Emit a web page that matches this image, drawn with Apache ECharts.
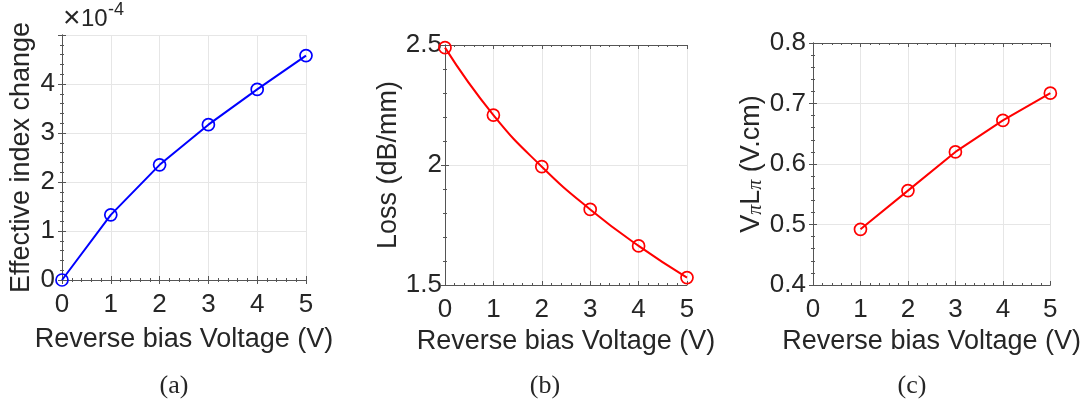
<!DOCTYPE html>
<html>
<head>
<meta charset="utf-8">
<script src="https://cdn.jsdelivr.net/npm/echarts@6/dist/echarts.min.js"></script>
<style>html,body{margin:0;padding:0;background:#fff}#c{width:1084px;height:405px}</style>
</head>
<body>
<div id="c"></div>
<script>
const voltage = [0, 1, 2, 3, 4, 5];
const indexChange = [0, 1.33, 2.35, 3.17, 3.89, 4.58];      // ×10^-4
const loss = [2.489, 2.208, 1.993, 1.815, 1.663, 1.531];      // dB/mm
const vpiVoltage = [1, 2, 3, 4, 5];
const vpiLpi = [0.492, 0.556, 0.620, 0.672, 0.717];           // V.cm
const xTitle = 'Reverse bias Voltage (V)';
const captions = ['(a)', '(b)', '(c)'];
const scaleTimes = '×';
const scaleBase = '10';
const scaleExp = '-4';

const FONT = '"Liberation Sans", Arial, sans-serif';
const SERIF = '"Liberation Serif", "DejaVu Serif", serif';
const TXT = '#262626';
const AX = '#555555';
const BLUE = '#0000ff';
const RED = '#ff0000';

const grids = [
  {left: 62, right: 778, top: 35, bottom: 125},
  {left: 445, right: 397, top: 45, bottom: 120},
  {left: 813, right: 30, top: 43, bottom: 120}
];

function baseAxis(extra) {
  return Object.assign({
    axisLine: {show: true, lineStyle: {color: AX, width: 1}},
    axisTick: {show: true, inside: true, length: 4, lineStyle: {color: AX}},
    minorTick: {show: true, splitNumber: 5, length: 2, lineStyle: {color: AX}},
    splitLine: {show: false},
    axisLabel: {show: false}
  }, extra);
}

const xAxes = [], yAxes = [];
const xNameGap = [46, 42, 42];
const yNameGap = [27, 43, 42];
const yRanges = [[0, 5, 1], [1.5, 2.5, 0.5], [0.4, 0.8, 0.1]];
const yNames = ['Effective index change', 'Loss (dB/mm)', '{v|V}{p|π}{v|L}{p|π}{v| (V.cm)}'];

for (let i = 0; i < 3; i++) {
  xAxes.push(baseAxis({
    type: 'value', gridIndex: i, position: 'bottom', min: 0, max: 5, interval: 1,
    name: xTitle, nameLocation: 'middle', nameGap: xNameGap[i],
    nameTextStyle: {fontFamily: FONT, fontSize: 27, color: TXT},
    axisLabel: {show: true, margin: 12, fontFamily: FONT, fontSize: 26, color: TXT},
    splitLine: {show: true, lineStyle: {color: '#e6e6e6', width: 1}}
  }));
  xAxes.push(baseAxis({
    type: 'value', gridIndex: i, position: 'top', min: 0, max: 5, interval: 1
  }));
  const r = yRanges[i];
  yAxes.push(baseAxis({
    type: 'value', gridIndex: i, position: 'left', min: r[0], max: r[1], interval: r[2],
    name: yNames[i], nameLocation: 'middle', nameGap: yNameGap[i],
    nameTextStyle: {fontFamily: FONT, fontSize: 27, color: TXT,
      rich: {v: {fontFamily: FONT, fontSize: 27, color: TXT},
             p: {fontFamily: SERIF, fontStyle: 'italic', fontSize: 20, color: TXT, padding: [9, 0, 0, 0]}}},
    axisLabel: {show: true, margin: i === 1 ? 3 : 7, fontFamily: FONT, fontSize: 26, color: TXT,
      formatter: i === 0 ? (v => (v === 5 ? '' : String(v))) : (v => String(v))},
    splitLine: {show: true, lineStyle: {color: '#e6e6e6', width: 1}}
  }));
  yAxes.push(baseAxis({
    type: 'value', gridIndex: i, position: 'right', min: r[0], max: r[1], interval: r[2]
  }));
}

function pairs(xs, ys) { return xs.map((x, k) => [x, ys[k]]); }

function lineSeries(idx, data, color, smooth) {
  return {
    type: 'line', xAxisIndex: idx * 2, yAxisIndex: idx * 2, data: data,
    smooth: smooth, symbol: 'circle', symbolSize: 12, showSymbol: true,
    lineStyle: {color: color, width: 2},
    itemStyle: {color: 'rgba(255,255,255,0)', borderColor: color, borderWidth: 1.7},
    z: 3, animation: false, clip: false
  };
}

const capStyle = {fontFamily: SERIF, fontSize: 26, fontWeight: 'normal', color: TXT};

const chart = echarts.init(document.getElementById('c'), null, {renderer: 'canvas'});
chart.setOption({
  backgroundColor: '#ffffff',
  animation: false,
  title: [
    {text: captions[0], left: 169, top: 368, textAlign: 'center', textStyle: capStyle},
    {text: captions[1], left: 540, top: 368, textAlign: 'center', textStyle: capStyle},
    {text: captions[2], left: 907, top: 368, textAlign: 'center', textStyle: capStyle}
  ],
  graphic: [
    {type: 'text', left: 63, top: 4, z: 10,
     style: {text: scaleTimes, fontSize: 30, fontFamily: 'Liberation Sans', fill: TXT}},
    {type: 'text', left: 81, top: 7, z: 10,
     style: {text: scaleBase, fontSize: 24, fontFamily: 'Liberation Sans', fill: TXT}},
    {type: 'text', left: 108, top: 1, z: 10,
     style: {text: scaleExp, fontSize: 18, fontFamily: 'Liberation Sans', fill: TXT}}
  ],
  grid: grids,
  xAxis: xAxes,
  yAxis: yAxes,
  series: [
    lineSeries(0, pairs(voltage, indexChange), BLUE, false),
    lineSeries(1, pairs(voltage, loss), RED, true),
    lineSeries(2, pairs(vpiVoltage, vpiLpi), RED, false)
  ]
});
</script>
</body>
</html>
